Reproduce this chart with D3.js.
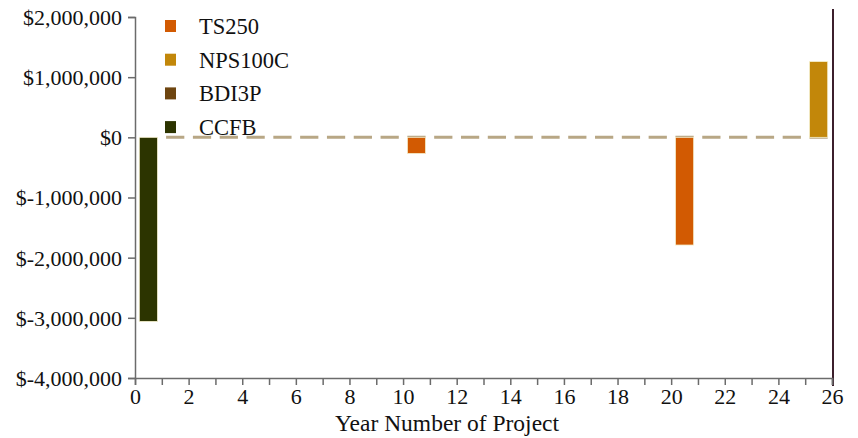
<!DOCTYPE html>
<html>
<head>
<meta charset="utf-8">
<script src="https://cdn.jsdelivr.net/npm/d3@7"></script>
<style>
  html, body { margin: 0; padding: 0; background: #fff; }
  svg { display: block; }
  text { font-family: "Liberation Serif", "Times New Roman", serif; fill: #111; }
</style>
</head>
<body>
<svg id="chart" width="858" height="438"></svg>
<script>
// Cash-flow bars per project year, one series per component
const seriesNames = ["TS250", "NPS100C", "BDI3P", "CCFB"];
const seriesColors = ["#d25a02", "#c2870a", "#6e4510", "#2c3400"];

const ts250Years = [10, 20];
const ts250Values = [-270000, -1790000];
const nps100cYears = [25];
const nps100cValues = [1260000];
const bdi3pYears = [];
const bdi3pValues = [];
const ccfbYears = [0];
const ccfbValues = [-3060000];

const yTicks = [2000000, 1000000, 0, -1000000, -2000000, -3000000, -4000000];
const xMajorTicks = [0, 2, 4, 6, 8, 10, 12, 14, 16, 18, 20, 22, 24, 26];
const xMinorTicks = d3.range(0, 27, 1);
const xTitle = "Year Number of Project";

const seriesYears = [ts250Years, nps100cYears, bdi3pYears, ccfbYears];
const seriesValues = [ts250Values, nps100cValues, bdi3pValues, ccfbValues];

const bars = [];
seriesNames.forEach((name, i) => {
  seriesYears[i].forEach((yr, j) => {
    bars.push({ series: name, color: seriesColors[i], year: yr, value: seriesValues[i][j] });
  });
});

const svg = d3.select("#chart");
const plotLeft = 135, plotRight = 832, plotTop = 17, plotBottom = 378;

const x = d3.scaleLinear().domain([0, 26]).range([plotLeft, plotRight]);
const y = d3.scaleLinear().domain([-4000000, 2000000]).range([plotBottom, plotTop]);

const barOffset = 0.16, barWidth = 0.68;

// zero reference line, dashed in step with the yearly slots
const dashLen = x(barWidth) - x(0);
const gapLen = x(1) - x(0) - dashLen;
svg.append("line")
  .attr("x1", x(1 + barOffset)).attr("x2", x(26 - 1 + barOffset + barWidth))
  .attr("y1", y(0)).attr("y2", y(0))
  .attr("stroke", "#b8a785").attr("stroke-width", 3)
  .attr("stroke-dasharray", `${dashLen},${gapLen}`);

// bars
svg.append("g").selectAll("rect").data(bars).join("rect")
  .attr("x", d => x(d.year + barOffset))
  .attr("width", d => x(d.year + barOffset + barWidth) - x(d.year + barOffset))
  .attr("y", d => y(Math.max(0, d.value)))
  .attr("height", d => Math.abs(y(d.value) - y(0)))
  .attr("fill", d => d.color)
  .attr("stroke", "#f6f0cf").attr("stroke-width", 0.8);

// right frame line
svg.append("line")
  .attr("x1", plotRight + 1).attr("x2", plotRight + 1)
  .attr("y1", 9).attr("y2", plotBottom + 8)
  .attr("stroke", "#3c1f2c").attr("stroke-width", 2);

// y axis, currency with a plain hyphen for negatives
const money = d => "$" + d3.format(",")(d).replace("\u2212", "-");
const yAxis = d3.axisLeft(y).tickValues(yTicks).tickSize(7).tickPadding(6).tickFormat(money);
const gy = svg.append("g").attr("transform", `translate(${plotLeft},0)`).call(yAxis);
gy.select(".domain").attr("stroke", "#6b6b6b").attr("stroke-width", 1.5);
gy.selectAll(".tick line").attr("stroke", "#6b6b6b").attr("stroke-width", 1.5);
gy.selectAll(".tick text").style("font-size", "22px").attr("fill", "#111").attr("dy", "0.34em");

// x axis: minor ticks every year, labels every other year
const gxMinor = svg.append("g").attr("transform", `translate(0,${plotBottom})`)
  .call(d3.axisBottom(x).tickValues(xMinorTicks).tickSize(7).tickFormat(""));
gxMinor.select(".domain").attr("stroke", "#6b6b6b").attr("stroke-width", 1.5);
gxMinor.selectAll(".tick line").attr("stroke", "#6b6b6b").attr("stroke-width", 1.5);

const gx = svg.append("g").attr("transform", `translate(0,${plotBottom})`)
  .call(d3.axisBottom(x).tickValues(xMajorTicks).tickSize(0).tickPadding(10).tickFormat(d3.format("d")));
gx.select(".domain").remove();
gx.selectAll(".tick text").style("font-size", "22px").attr("fill", "#111");

svg.append("text")
  .attr("x", 447).attr("y", 431)
  .attr("text-anchor", "middle")
  .style("font-size", "23.5px")
  .text(xTitle);

// legend
const legend = svg.append("g").selectAll("g").data(seriesNames).join("g")
  .attr("transform", (d, i) => `translate(165,${26 + i * 33.7})`);
legend.append("rect")
  .attr("x", 0).attr("y", -6).attr("width", 11).attr("height", 12)
  .attr("fill", (d, i) => seriesColors[i]);
legend.append("text")
  .attr("x", 34).attr("y", 0).attr("dy", "0.35em")
  .style("font-size", "22.5px")
  .text(d => d);
</script>
</body>
</html>
